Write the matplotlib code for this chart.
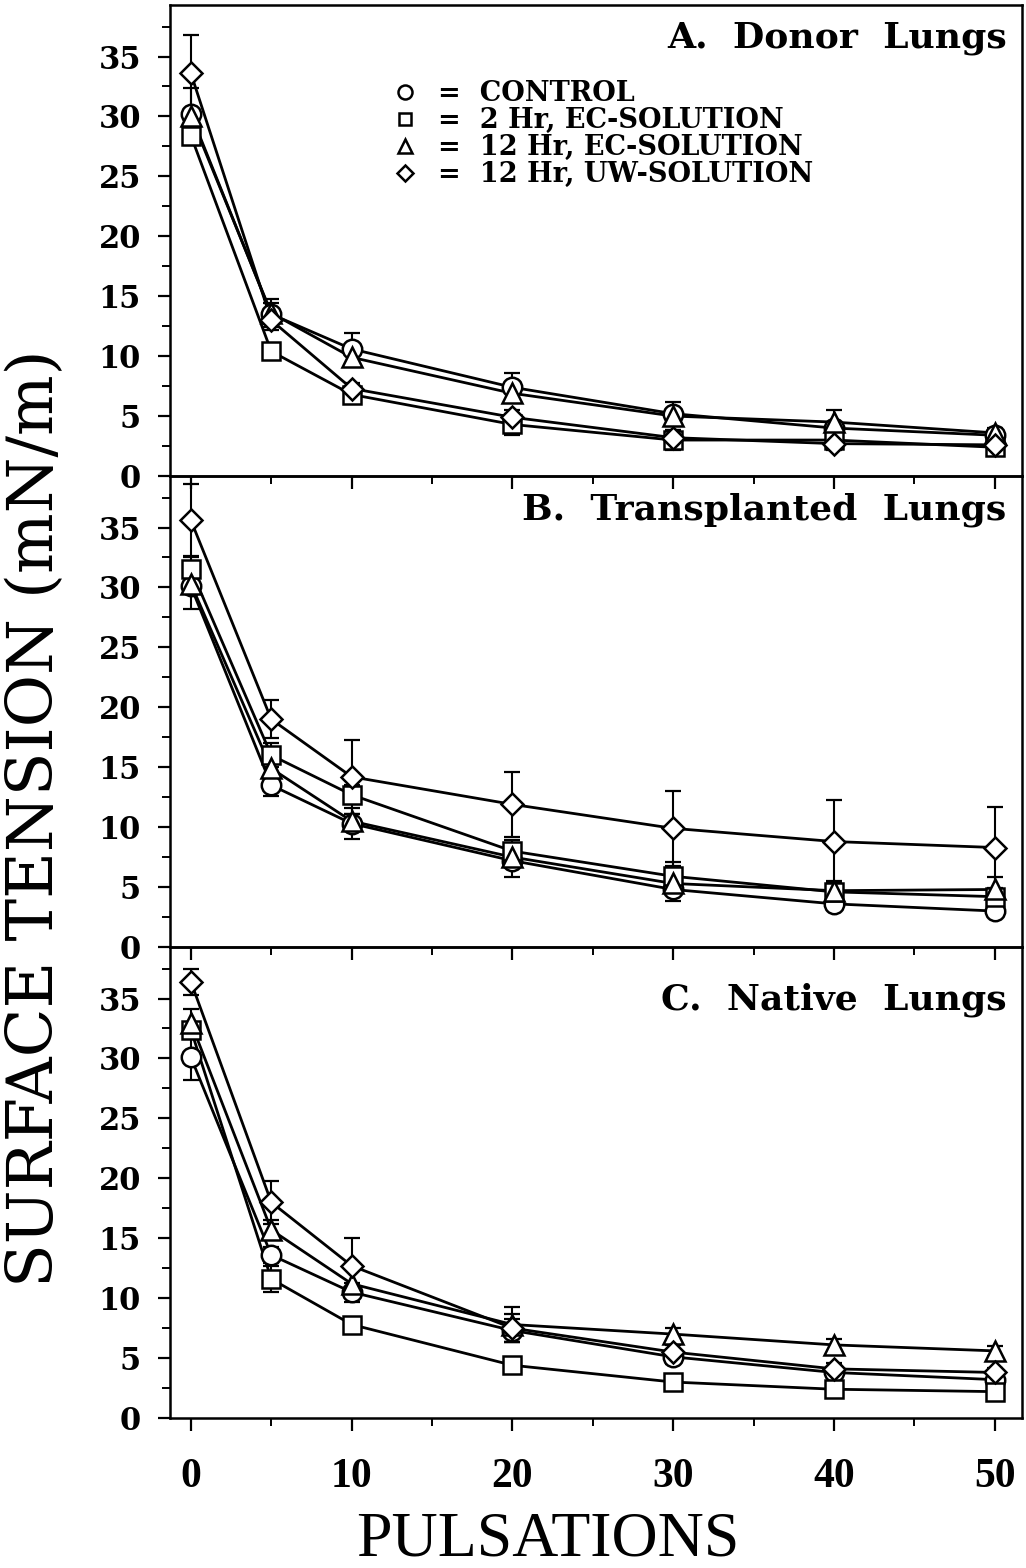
import matplotlib
matplotlib.use("Agg")
import matplotlib.pyplot as plt
from matplotlib.ticker import MultipleLocator

# Pulsation counts at which surface tension was measured
pulsations = [0, 5, 10, 20, 30, 40, 50]

group_labels = ["CONTROL", "2 Hr, EC-SOLUTION", "12 Hr, EC-SOLUTION", "12 Hr, UW-SOLUTION"]
group_markers = ["o", "s", "^", "D"]
group_sizes = [14, 12.5, 14, 11]

# A. Donor lungs: mean surface tension (mN/m) and SEM
donor_control = [30.2, 13.5, 10.6, 7.4, 5.2, 4.0, 3.4]
donor_ec2 = [28.4, 10.4, 6.8, 4.3, 3.0, 3.0, 2.4]
donor_ec12 = [30.0, 13.6, 9.9, 6.9, 5.0, 4.5, 3.6]
donor_uw12 = [33.6, 13.0, 7.3, 4.9, 3.2, 2.7, 2.6]
donor_control_sem = [2.2, 1.3, 1.3, 1.2, 1.0, 0.5, 0.4]
donor_ec2_sem = [0.8, 0.6, 0.6, 0.9, 0.8, 0.5, 0.4]
donor_ec12_sem = [0.6, 0.8, 0.6, 0.6, 0.6, 1.0, 0.4]
donor_uw12_sem = [3.2, 0.6, 0.5, 0.6, 0.6, 0.5, 0.4]

# B. Transplanted lungs
trans_control = [30.1, 13.5, 10.3, 7.2, 4.8, 3.6, 3.0]
trans_ec2 = [31.5, 16.0, 12.7, 8.0, 5.9, 4.6, 4.2]
trans_ec12 = [30.3, 14.9, 10.5, 7.5, 5.3, 4.7, 4.8]
trans_uw12 = [35.6, 19.0, 14.2, 11.9, 9.9, 8.8, 8.3]
trans_control_sem = [1.9, 0.9, 1.3, 1.4, 1.0, 0.5, 0.4]
trans_ec2_sem = [1.0, 1.0, 0.8, 0.9, 1.2, 0.9, 0.5]
trans_ec12_sem = [0.8, 0.8, 0.6, 0.6, 0.8, 0.7, 1.0]
trans_uw12_sem = [3.0, 1.6, 3.1, 2.7, 3.1, 3.5, 3.4]

# C. Native lungs
native_control = [30.1, 13.6, 10.5, 7.3, 5.1, 3.8, 3.2]
native_ec2 = [32.4, 11.6, 7.8, 4.4, 3.0, 2.4, 2.2]
native_ec12 = [33.0, 15.7, 11.2, 7.8, 7.0, 6.1, 5.6]
native_uw12 = [36.4, 18.0, 12.7, 7.5, 5.5, 4.1, 3.8]
native_control_sem = [1.9, 0.7, 0.8, 1.0, 0.6, 0.5, 0.4]
native_ec2_sem = [0.6, 1.1, 0.5, 0.5, 0.5, 0.4, 0.4]
native_ec12_sem = [1.1, 0.8, 1.2, 1.5, 0.5, 0.5, 0.4]
native_uw12_sem = [1.1, 1.8, 2.3, 1.2, 0.6, 0.5, 0.4]

panel_titles = ["A.  Donor  Lungs", "B.  Transplanted  Lungs", "C.  Native  Lungs"]
panel_means = [
    [donor_control, donor_ec2, donor_ec12, donor_uw12],
    [trans_control, trans_ec2, trans_ec12, trans_uw12],
    [native_control, native_ec2, native_ec12, native_uw12],
]
panel_sems = [
    [donor_control_sem, donor_ec2_sem, donor_ec12_sem, donor_uw12_sem],
    [trans_control_sem, trans_ec2_sem, trans_ec12_sem, trans_uw12_sem],
    [native_control_sem, native_ec2_sem, native_ec12_sem, native_uw12_sem],
]

x_ticks = [0, 10, 20, 30, 40, 50]
y_ticks = [0, 5, 10, 15, 20, 25, 30, 35]

BOLD_SERIF = "DejaVu Serif"
PLAIN_SERIF = "Liberation Serif"

fig = plt.figure(figsize=(10.26, 15.68), dpi=100)
left, right = 170 / 1026, 1022 / 1026
top_px, bottom_px = 5, 1418
panel_h = (bottom_px - top_px) / 3

axes = []
for i in range(3):
    y0 = 1 - (top_px + (i + 1) * panel_h) / 1568
    ax = fig.add_axes([left, y0, right - left, panel_h / 1568])
    ax.patch.set_alpha(0)
    axes.append(ax)

for i, ax in enumerate(axes):
    means = panel_means[i]
    sems = panel_sems[i]
    marker_artists = []
    for mean, sem in zip(means, sems):
        ax.errorbar(pulsations, mean, yerr=sem, fmt="-", color="black",
                    lw=2.0, elinewidth=1.5, capsize=6, capthick=1.6, zorder=2)
    for mean, mk, ms in zip(means, group_markers, group_sizes):
        (art,) = ax.plot(pulsations, mean, linestyle="none", marker=mk, ms=ms,
                         mfc="white", mec="black", mew=1.8, zorder=3)
        marker_artists.append(art)

    ax.set_xlim(-1.3, 51.7)
    ax.set_ylim(0, 39.3)
    ax.xaxis.set_major_locator(MultipleLocator(10))
    ax.xaxis.set_minor_locator(MultipleLocator(5))
    ax.set_yticks(y_ticks)
    ax.yaxis.set_minor_locator(MultipleLocator(2.5))
    ax.tick_params(axis="both", which="major", direction="out", length=9,
                   width=1.6, top=False, right=False)
    ax.tick_params(axis="both", which="minor", direction="out", length=6,
                   width=1.4, top=False, right=False)
    ax.tick_params(axis="y", which="major", pad=12)
    for sp in ax.spines.values():
        sp.set_linewidth(1.8)
    for lab in ax.get_yticklabels():
        lab.set_fontfamily(BOLD_SERIF)
        lab.set_fontweight("bold")
        lab.set_fontsize(22)
    if i < 2:
        ax.set_xticklabels([])
    else:
        ax.set_xticks(x_ticks)
        ax.tick_params(axis="x", which="major", pad=20)
        for lab in ax.get_xticklabels():
            lab.set_fontfamily(PLAIN_SERIF)
            lab.set_fontweight("bold")
            lab.set_fontsize(30)

    title_y = 0.965 if i < 2 else 0.925
    ax.text(0.982, title_y, panel_titles[i], transform=ax.transAxes,
            ha="right", va="top", fontfamily=BOLD_SERIF, fontweight="bold",
            fontsize=26)

    if i == 0:
        ax.legend(marker_artists, ["=  " + g for g in group_labels],
                  loc="upper left", bbox_to_anchor=(0.262, 0.84),
                  frameon=False, borderpad=0, borderaxespad=0,
                  handlelength=0.9, handletextpad=0.75, labelspacing=0.0,
                  markerscale=0.72,
                  prop={"family": BOLD_SERIF, "weight": "bold", "size": 19.5})

fig.text(36 / 1026, 1 - 818 / 1568, "SURFACE TENSION (mN/m)", rotation=90,
         ha="center", va="center", fontfamily="DejaVu Serif", fontsize=46)
fig.text(548 / 1026, 1 - 1540 / 1568, "PULSATIONS", ha="center", va="center",
         fontfamily=PLAIN_SERIF, fontsize=46)

fig.savefig("out.png", dpi=100)
